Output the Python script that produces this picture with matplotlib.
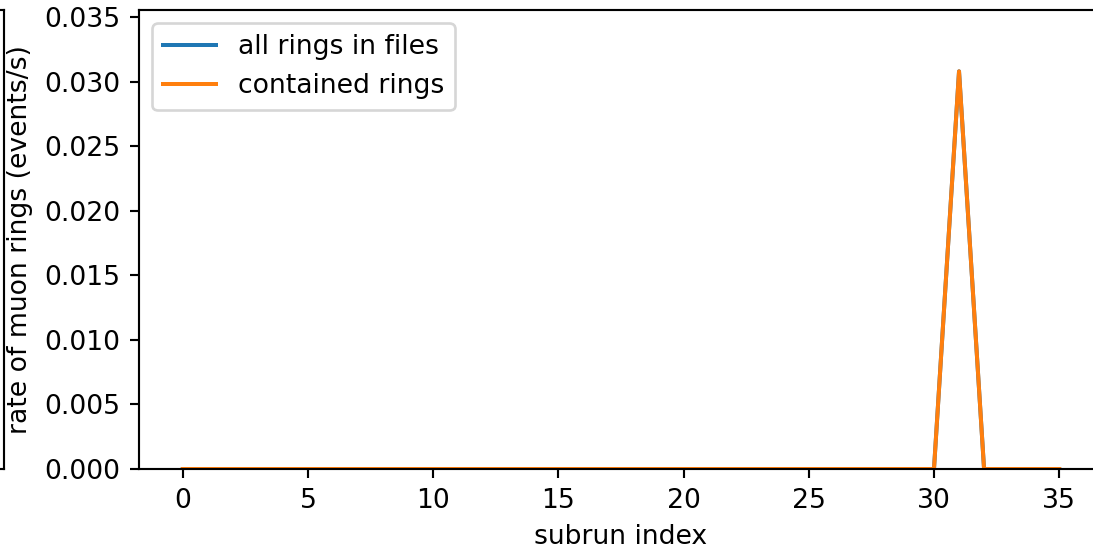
import matplotlib
matplotlib.use("Agg")
import matplotlib.pyplot as plt
import numpy as np

subrun = list(range(36))
all_rings = [0.0] * 36
all_rings[31] = 0.0308
contained_rings = list(all_rings)

DPI = 192
W, H = 1093, 551
fig = plt.figure(figsize=(W / DPI, H / DPI), dpi=DPI)

top = 1 - 10 / H
bottom = 1 - 469 / H

# remnant of neighbouring panel at the left edge
ax0 = fig.add_axes([-0.5, bottom, 0.5 + 4 / W, top - bottom])
ax0.set_xticks([])
ax0.set_yticks([])

left = 139 / W
right = 1103 / W
ax = fig.add_axes([left, bottom, right - left, top - bottom])
ax.plot(subrun, all_rings, label="all rings in files")
ax.plot(subrun, contained_rings, label="contained rings")
ax.set_xlim(-1.75, 36.75)
ax.set_ylim(0, 0.03555)
ax.set_xticks([0, 5, 10, 15, 20, 25, 30, 35])
ax.set_yticks([0, 0.005, 0.010, 0.015, 0.020, 0.025, 0.030, 0.035])
ax.set_xlabel("subrun index")
ax.set_ylabel("rate of muon rings (events/s)")
ax.legend(loc="upper left")

fig.savefig("out.png", dpi=DPI)
